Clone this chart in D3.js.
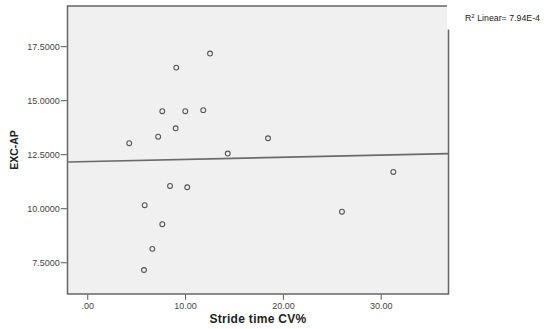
<!DOCTYPE html>
<html>
<head>
<meta charset="utf-8">
<script src="https://cdn.jsdelivr.net/npm/d3@7"></script>
<style>
  html, body { margin: 0; padding: 0; background: #fff; }
  svg { display: block; font-family: "Liberation Sans", Arial, sans-serif; }
</style>
</head>
<body>
<svg id="chart" width="544" height="329"></svg>
<script>
// Stride time CV% (x) against EXC-AP (y)
const strideCV = [4.29, 7.25, 9.04, 7.67, 10.02, 11.86, 9.10, 12.55, 14.36, 18.48,
                  8.46, 10.22, 5.87, 7.67, 6.65, 5.80, 26.04, 31.29];
const excAP    = [13.01, 13.31, 13.70, 14.49, 14.49, 14.54, 16.51, 17.16, 12.53, 13.24,
                  11.03, 10.97, 10.14, 9.26, 8.12, 7.14, 9.84, 11.68];

// Linear fit line
const fitIntercept = 12.16;
const fitSlope = 0.0100;
const rSquaredLabel = "7.94E-4";

const xTicks = [0, 10, 20, 30];
const xTickLabels = [".00", "10.00", "20.00", "30.00"];
const yTicks = [7.5, 10, 12.5, 15, 17.5];
const yTickLabels = ["7.5000", "10.0000", "12.5000", "15.0000", "17.5000"];

const xDomain = [-2.02, 36.93];
const yDomain = [6.03, 19.36];

const svg = d3.select("#chart");
const plot = { left: 67.5, right: 448.5, top: 6, bottom: 294 };

const x = d3.scaleLinear().domain(xDomain).range([plot.left, plot.right]);
const y = d3.scaleLinear().domain(yDomain).range([plot.bottom, plot.top]);

// plot area
svg.append("rect")
  .attr("x", plot.left).attr("y", plot.top)
  .attr("width", plot.right - plot.left).attr("height", plot.bottom - plot.top)
  .attr("fill", "#f0f0f0")
  .attr("stroke", "#666").attr("stroke-width", 1.5);

// fit line
svg.append("line")
  .attr("x1", x(xDomain[0])).attr("y1", y(fitIntercept + fitSlope * xDomain[0]))
  .attr("x2", x(xDomain[1])).attr("y2", y(fitIntercept + fitSlope * xDomain[1]))
  .attr("stroke", "#6a6a6a").attr("stroke-width", 1.6);

// points
svg.append("g").selectAll("circle")
  .data(strideCV.map((v, i) => [v, excAP[i]]))
  .join("circle")
  .attr("cx", d => x(d[0])).attr("cy", d => y(d[1]))
  .attr("r", 2.4)
  .attr("fill", "none")
  .attr("stroke", "#555").attr("stroke-width", 1.1);

// axes
const xAxis = d3.axisBottom(x).tickValues(xTicks)
  .tickFormat((d, i) => xTickLabels[i]).tickSize(5).tickSizeOuter(0);
const gx = svg.append("g").attr("transform", `translate(0,${plot.bottom + 0.75})`).call(xAxis);
gx.select(".domain").remove();
gx.selectAll(".tick line").attr("stroke", "#555");
gx.selectAll(".tick text").attr("fill", "#444").attr("font-size", 9)
  .attr("dy", "0.71em").attr("y", 8)
  .style("font-family", "'Liberation Sans', Arial, sans-serif");

const yAxis = d3.axisLeft(y).tickValues(yTicks)
  .tickFormat((d, i) => yTickLabels[i]).tickSize(6).tickSizeOuter(0);
const gy = svg.append("g").attr("transform", `translate(${plot.left - 0.75},0)`).call(yAxis);
gy.select(".domain").remove();
gy.selectAll(".tick line").attr("stroke", "#555");
gy.selectAll(".tick text").attr("fill", "#444").attr("font-size", 9).attr("x", -7)
  .style("font-family", "'Liberation Sans', Arial, sans-serif");

// axis titles
svg.append("text")
  .attr("x", 258).attr("y", 323)
  .attr("text-anchor", "middle")
  .attr("font-size", 12).attr("font-weight", "bold").attr("fill", "#222")
  .attr("letter-spacing", 0.3)
  .text("Stride time CV%");

svg.append("text")
  .attr("transform", "translate(18,150) rotate(-90)")
  .attr("text-anchor", "middle")
  .attr("font-size", 10.5).attr("font-weight", "bold").attr("fill", "#222")
  .text("EXC-AP");

// legend box
svg.append("rect")
  .attr("x", 447).attr("y", 0).attr("width", 97).attr("height", 29.5)
  .attr("fill", "#fff");
const legend = svg.append("text")
  .attr("x", 465).attr("y", 21)
  .attr("font-size", 8.8).attr("fill", "#222");
legend.append("tspan").text("R");
legend.append("tspan").attr("font-size", 6).attr("dy", -3.5).text("2");
legend.append("tspan").attr("dy", 3.5).text(" Linear= " + rSquaredLabel);
</script>
</body>
</html>
